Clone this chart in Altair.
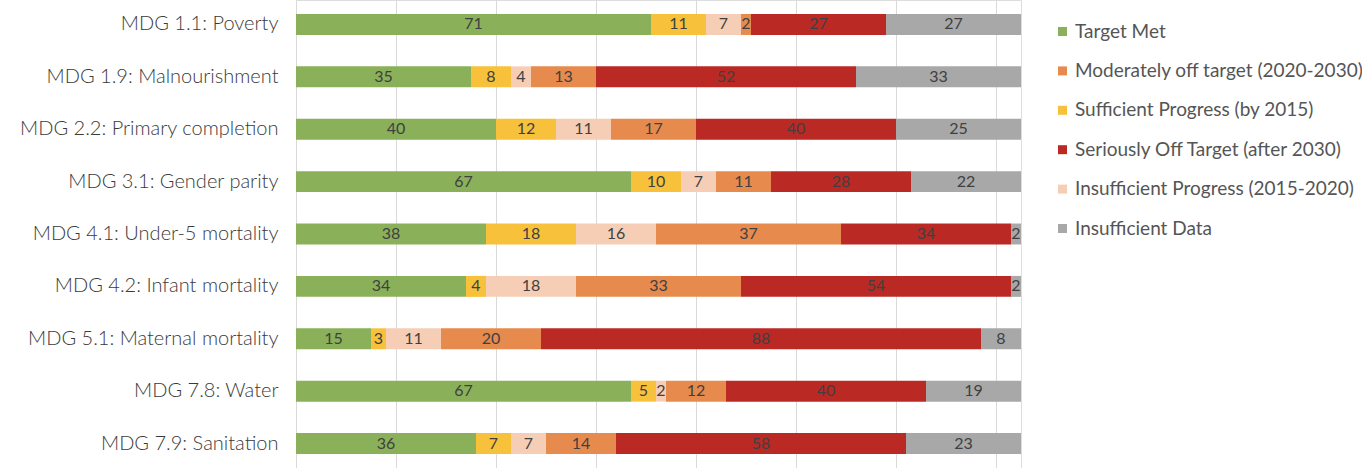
import altair as alt
import pandas as pd

# MDG indicators, top to bottom
goals = [
    "MDG 1.1: Poverty",
    "MDG 1.9: Malnourishment",
    "MDG 2.2: Primary completion",
    "MDG 3.1: Gender parity",
    "MDG 4.1: Under-5 mortality",
    "MDG 4.2: Infant mortality",
    "MDG 5.1: Maternal mortality",
    "MDG 7.8: Water",
    "MDG 7.9: Sanitation",
]

# Progress categories in stacking order (left to right)
stack_order = [
    "Target Met",
    "Sufficient Progress (by 2015)",
    "Insufficient Progress (2015-2020)",
    "Moderately off target (2020-2030)",
    "Seriously Off Target (after 2030)",
    "Insufficient Data",
]

# Legend order
legend_order = [
    "Target Met",
    "Moderately off target (2020-2030)",
    "Sufficient Progress (by 2015)",
    "Seriously Off Target (after 2030)",
    "Insufficient Progress (2015-2020)",
    "Insufficient Data",
]

colors = {
    "Target Met": "#8AB15A",
    "Moderately off target (2020-2030)": "#E68B4D",
    "Sufficient Progress (by 2015)": "#F8C13B",
    "Seriously Off Target (after 2030)": "#BB2924",
    "Insufficient Progress (2015-2020)": "#F6CEB6",
    "Insufficient Data": "#A8A8A8",
}

# Number of countries per category, one list per category (same order as goals)
target_met = [71, 35, 40, 67, 38, 34, 15, 67, 36]
sufficient = [11, 8, 12, 10, 18, 4, 3, 5, 7]
insufficient = [7, 4, 11, 7, 16, 18, 11, 2, 7]
moderately_off = [2, 13, 17, 11, 37, 33, 20, 12, 14]
seriously_off = [27, 52, 40, 28, 34, 54, 88, 40, 58]
no_data = [27, 33, 25, 22, 2, 2, 8, 19, 23]

series = [target_met, sufficient, insufficient, moderately_off, seriously_off, no_data]

rows = []
for rank, (cat, vals) in enumerate(zip(stack_order, series)):
    for g, v in zip(goals, vals):
        rows.append({"goal": g, "category": cat, "value": v, "rank": rank})
df = pd.DataFrame(rows)

FONT = "Lato"

base = (
    alt.Chart(df)
    .transform_stack(
        stack="value",
        as_=["x0", "x1"],
        groupby=["goal"],
        sort=[alt.SortField("rank", order="ascending")],
    )
    .transform_calculate(mid="(datum.x0 + datum.x1) / 2")
)

y_enc = alt.Y(
    "goal:N",
    sort=goals,
    title=None,
    scale=alt.Scale(paddingInner=0.6, paddingOuter=0.267),
    axis=alt.Axis(
        domain=False,
        ticks=False,
        grid=False,
        labelFont=FONT,
        labelFontSize=20,
        labelFontWeight=300,
        labelColor="#3a3a3a",
        labelPadding=18,
        labelLimit=0,
    ),
)

x_scale = alt.Scale(domain=[0, 145], nice=False, zero=True)

bars = base.mark_bar().encode(
    x=alt.X(
        "x0:Q",
        scale=x_scale,
        title=None,
        axis=alt.Axis(
            values=[0, 20, 40, 60, 80, 100, 120, 140],
            labels=False,
            ticks=False,
            domain=False,
            grid=True,
            gridColor="#D9D9D9",
            gridWidth=1,
        ),
    ),
    x2="x1:Q",
    y=y_enc,
    color=alt.Color(
        "category:N",
        scale=alt.Scale(domain=legend_order, range=[colors[c] for c in legend_order]),
        legend=alt.Legend(
            title=None,
            orient="none",
            legendX=757,
            legendY=22,
            symbolType="square",
            symbolSize=81,
            symbolStrokeWidth=0,
            labelFont=FONT,
            labelFontSize=19,
            labelColor="#555555",
            labelLimit=0,
            labelOffset=3,
            rowPadding=19.4,
        ),
    ),
)

labels = base.mark_text(
    font=FONT, fontSize=16, color="#404040", baseline="middle", align="center"
).encode(
    x=alt.X("mid:Q", scale=x_scale),
    y=alt.Y("goal:N", sort=goals),
    text=alt.Text("value:Q"),
)

chart = (
    alt.layer(bars, labels)
    .properties(
        width=725,
        height=468,
        autosize=alt.AutoSizeParams(type="none"),
        padding={"left": 296, "right": 341, "top": 0, "bottom": 0},
    )
    .configure_view(stroke=None)
    .configure(background="white")
)

chart.save("out.html", embed_options={"renderer": "svg", "actions": False})
